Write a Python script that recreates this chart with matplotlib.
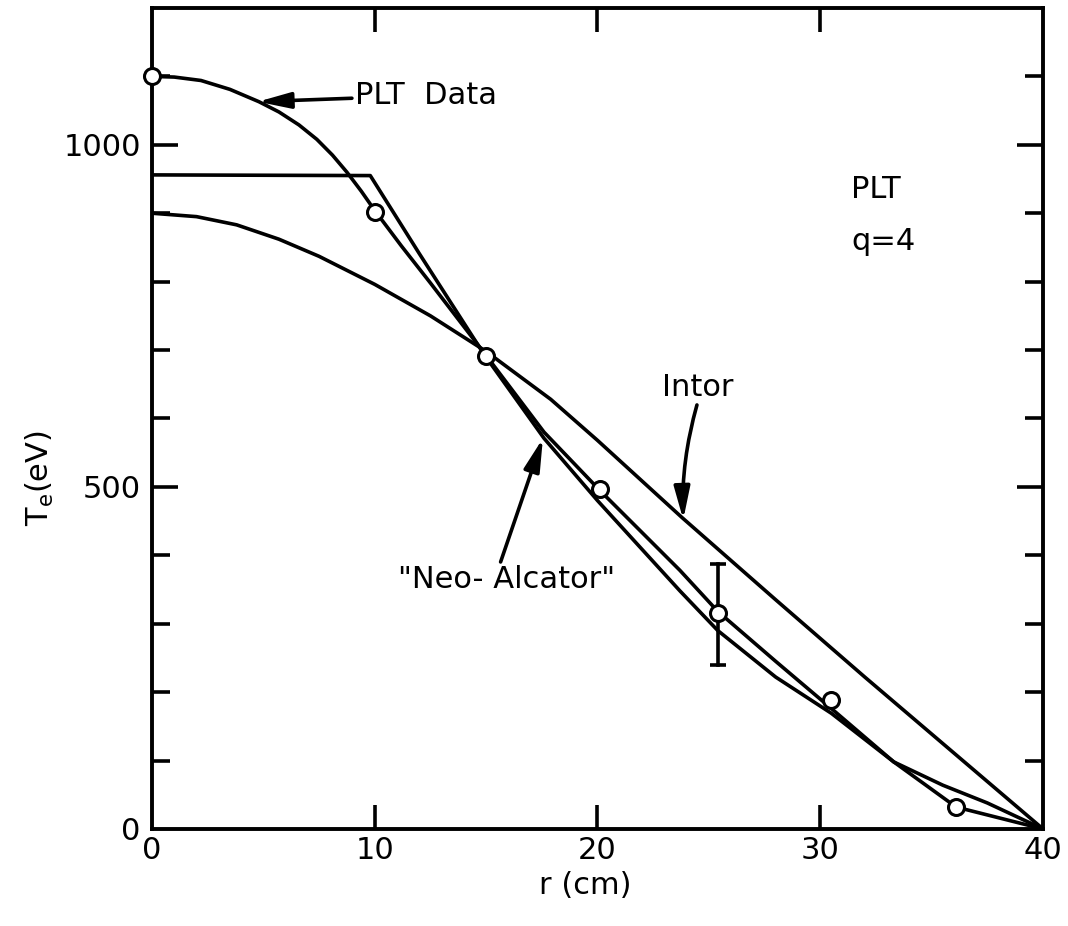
import matplotlib
matplotlib.use("Agg")
import matplotlib.pyplot as plt
import numpy as np

plt.rcParams['font.family'] = ['DejaVu Sans']

# Measured electron temperature (PLT) with uncertainty at r = 25.4 cm
data_r = [0.0, 10.0, 15.0, 20.1, 25.4, 30.5, 36.1]
data_te = [1100, 902, 691, 497, 315, 188, 32]
err_r = 25.4
err_lo, err_hi = 239, 388

# Smooth curve drawn through the PLT data
plt_r = [0.0, 1.0, 2.2, 3.5, 4.8, 5.7, 6.6, 7.4, 8.1, 8.75, 9.4, 10.0, 11.2,
         12.5, 15.0, 17.6, 20.1, 23.7, 25.4, 28.0, 30.5, 33.3, 36.1, 40.0]
plt_te = [1100, 1099, 1094, 1081, 1063, 1048, 1029, 1008, 985, 960, 932, 904,
          852, 798, 692, 580, 495, 378, 318, 245, 176, 98, 32, 0]

# "Neo-Alcator" scaling profile
neo_r = [0.0, 9.8, 12.0, 14.9, 17.6, 20.0, 23.7, 25.4, 28.0, 30.5, 33.3,
         35.5, 37.5, 40.0]
neo_te = [956, 955, 841, 694, 571, 480, 348, 290, 222, 169, 98, 64, 38, 0]

# INTOR scaling profile
intor_r = [0.0, 2.0, 3.8, 5.7, 7.5, 10.0, 12.5, 15.0, 17.9, 20.0, 23.8, 28.0,
           32.0, 36.0, 40.0]
intor_te = [900, 895, 883, 862, 837, 796, 750, 698, 628, 568, 455, 335, 222,
            111, 0]

x_ticks = [0, 10, 20, 30, 40]
y_major = [0, 500, 1000]
y_minor = [100, 200, 300, 400, 600, 700, 800, 900, 1100]

fig = plt.figure(figsize=(10.68, 9.26), dpi=100)
ax = fig.add_axes([0.1423, 0.1048, 0.8343, 0.8866])

lw = 2.6
ax.plot(plt_r, plt_te, color='black', lw=lw, solid_capstyle='round',
        solid_joinstyle='round', zorder=3)
ax.plot(neo_r, neo_te, color='black', lw=lw, solid_joinstyle='round', zorder=3)
ax.plot(intor_r, intor_te, color='black', lw=lw, solid_joinstyle='round',
        zorder=3)

ax.plot([err_r, err_r], [err_lo, err_hi], color='black', lw=2.6, zorder=4)
ax.plot([err_r, err_r], [err_lo, err_hi], ls='none', marker='_',
        markersize=11, markeredgewidth=2.6, color='black', zorder=4)
ax.plot(data_r, data_te, ls='none', marker='o', markersize=11.5,
        markerfacecolor='white', markeredgecolor='black', markeredgewidth=2.2,
        zorder=5, clip_on=False)

ax.set_xlim(0, 40)
ax.set_ylim(0, 1200)

for s in ax.spines.values():
    s.set_linewidth(2.8)

ax.set_xticks(x_ticks)
ax.set_xticklabels([str(v) for v in x_ticks])
ax.set_yticks(y_major)
ax.set_yticklabels([str(v) for v in y_major])
ax.set_yticks(y_minor, minor=True)
ax.tick_params(axis='x', which='major', direction='in', length=17, width=2.6,
               top=True, bottom=True, labelsize=22, pad=5)
ax.tick_params(axis='y', which='major', direction='in', length=19, width=2.6,
               left=True, right=True, labelsize=22, pad=8)
ax.tick_params(axis='y', which='minor', direction='in', length=13, width=2.6,
               left=True, right=True)

# Hide the tick marks that would sit on the corners
for t in ax.xaxis.get_major_ticks():
    if t.get_loc() in (0, 40):
        t.tick1line.set_visible(False)
        t.tick2line.set_visible(False)
for t in ax.yaxis.get_major_ticks():
    if t.get_loc() == 0:
        t.tick1line.set_visible(False)
        t.tick2line.set_visible(False)

fs = 22
arrow = dict(arrowstyle='-|>,head_length=0.9,head_width=0.22', lw=2.6,
             color='black', mutation_scale=22, shrinkA=0, shrinkB=0)

ax.annotate('PLT  Data', xy=(4.75, 1063), xytext=(9.1, 1072),
            fontsize=fs, va='center', ha='left', arrowprops=arrow)
ax.annotate('Intor', xy=(23.85, 452), xytext=(24.5, 645),
            fontsize=fs, va='center', ha='center',
            arrowprops=dict(arrow, connectionstyle='arc3,rad=0.08',
                            relpos=(0.5, 0.0)))
ax.annotate('"Neo- Alcator"', xy=(17.55, 571), xytext=(15.9, 365),
            fontsize=fs, va='center', ha='center',
            arrowprops=dict(arrow, relpos=(0.47, 1.0)))

ax.text(31.4, 934, 'PLT', fontsize=fs, va='center', ha='left')
ax.text(31.4, 858, 'q=4', fontsize=fs, va='center', ha='left')

fig.text(0.0375, 0.484, r'T$_\mathregular{e}$(eV)', rotation=90, fontsize=fs,
         ha='center', va='center')
fig.text(0.548, 0.044, 'r (cm)', fontsize=fs, ha='center', va='center')

fig.savefig('out.png', dpi=100)
